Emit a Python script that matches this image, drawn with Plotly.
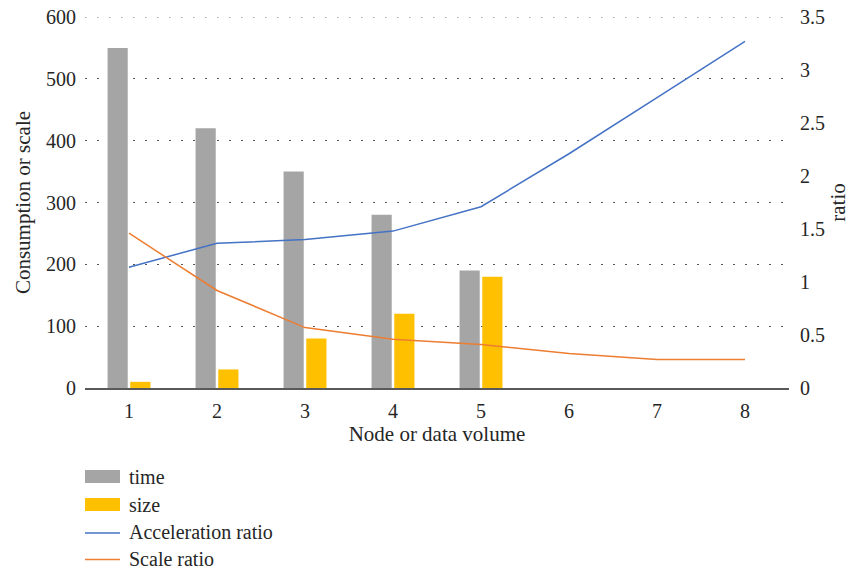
import plotly.graph_objects as go

# Categories and series
nodes = [1, 2, 3, 4, 5, 6, 7, 8]
time_vals = [550, 420, 350, 280, 190]
size_vals = [10, 30, 80, 120, 180]
accel_ratio = [1.14, 1.365, 1.40, 1.48, 1.71, 2.21, 2.74, 3.27]
scale_ratio = [1.46, 0.92, 0.57, 0.46, 0.41, 0.325, 0.27, 0.27]

series_names = ["time", "size", "Acceleration ratio", "Scale ratio"]
colors = ["#A5A5A5", "#FFC000", "#4472C4", "#ED7D31"]

FONT = "'Liberation Serif', 'Times New Roman', serif"
FS = 20      # tick labels and legend
FS_T = 21    # axis titles
TXT = "#262626"
W, H = 850, 571
ML, MR, MT, MB = 85, 61, 17, 183
PW, PH = W - ML - MR, H - MT - MB
Y_MAX = 600
GRID = dict(color="#595959", width=1.2, dash="1.5px,10.5px")


def px_x(x):
    return (x - ML) / PW


def px_y(y):
    return (H - MB - y) / PH


fig = go.Figure()
fig.add_trace(go.Bar(x=nodes[:len(time_vals)], y=time_vals, name=series_names[0],
                     marker=dict(color=colors[0], line=dict(width=0))))
fig.add_trace(go.Bar(x=nodes[:len(size_vals)], y=size_vals, name=series_names[1],
                     marker=dict(color=colors[1], line=dict(width=0))))
fig.add_trace(go.Scatter(x=nodes, y=accel_ratio, name=series_names[2], mode="lines",
                         line=dict(color=colors[2], width=1.5), yaxis="y2"))
fig.add_trace(go.Scatter(x=nodes, y=scale_ratio, name=series_names[3], mode="lines",
                         line=dict(color=colors[3], width=1.5), yaxis="y2"))

# Top gridline at the end of the primary range
shapes = [dict(type="line", xref="paper", yref="y", x0=0, x1=1, y0=Y_MAX, y1=Y_MAX,
               line=GRID, layer="below")]
annotations = []

# Hand-built legend below the plot
rows_y = [476.5, 504.5, 532, 558.5]
for i, (name, col) in enumerate(zip(series_names, colors)):
    yc = rows_y[i]
    if i < 2:
        shapes.append(dict(type="rect", xref="paper", yref="paper",
                           x0=px_x(85), x1=px_x(120), y0=px_y(yc - 6.5), y1=px_y(yc + 6.5),
                           fillcolor=col, line=dict(width=0)))
    else:
        shapes.append(dict(type="line", xref="paper", yref="paper",
                           x0=px_x(85), x1=px_x(120), y0=px_y(yc + 1), y1=px_y(yc + 1),
                           line=dict(color=col, width=1.5)))
    annotations.append(dict(text=name, xref="paper", yref="paper", x=px_x(128), y=px_y(yc),
                            xanchor="left", yanchor="middle", showarrow=False, borderpad=0,
                            font=dict(family=FONT, size=FS, color=TXT)))

fig.update_layout(
    width=W, height=H,
    margin=dict(l=ML, r=MR, t=MT, b=MB, autoexpand=False),
    paper_bgcolor="white", plot_bgcolor="white",
    barmode="group", bargap=0.484, bargroupgap=0.111,
    showlegend=False,
    font=dict(family=FONT, size=FS, color=TXT),
    shapes=shapes, annotations=annotations,
    xaxis=dict(
        tickmode="array", tickvals=nodes, ticktext=[str(n) for n in nodes],
        range=[0.5, 8.5], showgrid=False, zeroline=False,
        showline=True, linecolor="#595959", linewidth=2,
        ticks="", ticklabelstandoff=4,
        title=dict(text="Node or data volume", standoff=5,
                   font=dict(family=FONT, size=FS_T, color=TXT)),
        tickfont=dict(family=FONT, size=FS, color=TXT),
    ),
    yaxis=dict(
        range=[0, Y_MAX], dtick=100, tick0=0,
        showgrid=True, gridcolor=GRID["color"], gridwidth=GRID["width"], griddash=GRID["dash"],
        zeroline=False, showline=False, ticks="", ticklabelstandoff=8,
        title=dict(text="Consumption or scale", standoff=9,
                   font=dict(family=FONT, size=FS_T, color=TXT)),
        tickfont=dict(family=FONT, size=FS, color=TXT),
    ),
    yaxis2=dict(
        range=[0, 3.5], dtick=0.5, tick0=0, overlaying="y", side="right",
        showgrid=False, zeroline=False, showline=False, ticks="", ticklabelstandoff=10,
        title=dict(text="ratio", standoff=8,
                   font=dict(family=FONT, size=FS_T, color=TXT)),
        tickfont=dict(family=FONT, size=FS, color=TXT),
    ),
)

fig.write_html("out.html")
